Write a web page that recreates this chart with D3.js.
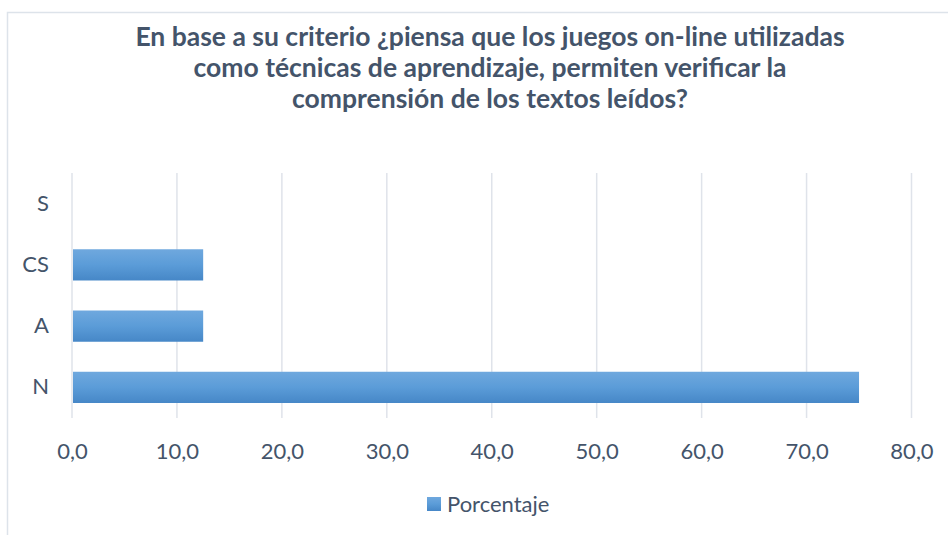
<!DOCTYPE html>
<html>
<head>
<meta charset="utf-8">
<script src="https://cdn.jsdelivr.net/npm/d3@7"></script>
<style>
  body { margin: 0; background: #fff; }
  text { font-family: Lato, "Open Sans", sans-serif; }
</style>
</head>
<body>
<div id="chart"></div>
<script>
// data
var categories = ["S", "CS", "A", "N"];
var porcentaje = [0.0, 12.5, 12.5, 75.0];
var xTicks = [0, 10, 20, 30, 40, 50, 60, 70, 80];
var titleLines = [
  "En base a su criterio ¿piensa que los juegos on-line utilizadas",
  "como técnicas de aprendizaje, permiten verificar la",
  "comprensión de los textos leídos?"
];
var seriesName = "Porcentaje";

var width = 948, height = 535;
var plot = {left: 72, right: 911.5, top: 173, bottom: 418};
var textColor = "#44546a";
var gridColor = "#dfe3ea";
var labelSize = "22px";

var svg = d3.select("#chart").append("svg")
  .attr("width", width)
  .attr("height", height);

var defs = svg.append("defs");
var grad = defs.append("linearGradient")
  .attr("id", "barGrad")
  .attr("x1", 0).attr("y1", 0).attr("x2", 0).attr("y2", 1);
grad.append("stop").attr("offset", "0%").attr("stop-color", "#6fa8de");
grad.append("stop").attr("offset", "50%").attr("stop-color", "#5b9cd8");
grad.append("stop").attr("offset", "100%").attr("stop-color", "#4687c7");

// chart frame (only top and left edges are visible)
svg.append("path")
  .attr("d", "M7.5," + height + "V12.5H" + width)
  .attr("fill", "none")
  .attr("stroke", "#dde3ea")
  .attr("stroke-width", 1.5);

// title
svg.append("text")
  .attr("text-anchor", "middle")
  .attr("font-weight", "bold")
  .attr("font-size", "26.5px")
  .attr("fill", textColor)
  .selectAll("tspan")
  .data(titleLines)
  .enter().append("tspan")
    .attr("x", 490)
    .attr("y", (d, i) => 46 + i * 31)
    .text(d => d);

var x = d3.scaleLinear()
  .domain([0, 80])
  .range([plot.left, plot.right]);
var y = d3.scaleBand()
  .domain(categories)
  .range([plot.top, plot.bottom])
  .paddingInner(0.49)
  .paddingOuter(0.245);

// vertical gridlines
svg.append("g")
  .selectAll("line")
  .data(xTicks)
  .enter().append("line")
    .attr("x1", d => x(d))
    .attr("x2", d => x(d))
    .attr("y1", plot.top)
    .attr("y2", plot.bottom)
    .attr("stroke", gridColor)
    .attr("stroke-width", 1.5);

// bars
svg.append("g")
  .selectAll("rect")
  .data(categories)
  .enter().append("rect")
    .attr("x", x(0) + 1)
    .attr("y", d => y(d))
    .attr("width", (d, i) => Math.max(0, x(porcentaje[i]) - x(0) - 1))
    .attr("height", y.bandwidth())
    .attr("fill", "url(#barGrad)");

// x axis labels
var xAxis = svg.append("g")
  .attr("transform", "translate(0," + plot.bottom + ")")
  .call(d3.axisBottom(x)
    .tickValues(xTicks)
    .tickSize(0)
    .tickPadding(25)
    .tickFormat(d => d3.format(".1f")(d).replace(".", ",")));
xAxis.select(".domain").remove();
xAxis.selectAll("text")
  .attr("font-size", labelSize)
  .attr("font-family", "Lato, sans-serif")
  .attr("fill", textColor);

// y axis labels
var yAxis = svg.append("g")
  .attr("transform", "translate(" + plot.left + ",0)")
  .call(d3.axisLeft(y).tickSize(0).tickPadding(23));
yAxis.select(".domain").remove();
yAxis.selectAll("text")
  .attr("font-size", labelSize)
  .attr("font-family", "Lato, sans-serif")
  .attr("fill", textColor);

// legend
var legend = svg.append("g").attr("transform", "translate(427,497)");
legend.append("rect")
  .attr("width", 14)
  .attr("height", 14)
  .attr("fill", "url(#barGrad)");
legend.append("text")
  .attr("x", 20)
  .attr("y", 7)
  .attr("dy", "0.35em")
  .attr("font-size", labelSize)
  .attr("fill", textColor)
  .text(seriesName);
</script>
</body>
</html>
